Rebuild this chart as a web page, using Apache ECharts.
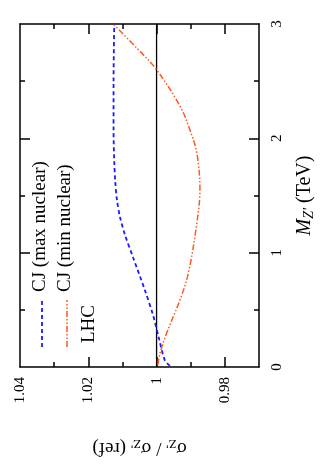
<!DOCTYPE html>
<html><head><meta charset="utf-8">
<script src="https://cdn.jsdelivr.net/npm/echarts@6/dist/echarts.min.js"></script>
<style>html,body{margin:0;padding:0;background:#fff}#c{width:327px;height:466px}</style>
</head><body><div id="c"></div>
<script>
// Data (ratio vs. Z' mass)
const massBlue   = [0.01, 0.06, 0.25, 0.45, 0.67, 0.96, 1.16, 1.31, 1.46, 1.62, 1.80, 2.07, 2.5, 3.0];
const ratioBlue  = [0.9961, 0.9976, 0.9993, 1.0010, 1.0034, 1.0069, 1.0093, 1.0107, 1.0116, 1.0121, 1.0124, 1.0126, 1.0126, 1.0124];
const massOrange  = [0.02, 0.12, 0.30, 0.59, 0.82, 1.26, 1.55, 1.87, 2.07, 2.28, 2.60, 2.79, 3.0];
const ratioOrange = [0.9996, 0.9990, 0.9970, 0.9931, 0.9907, 0.9882, 0.9873, 0.9882, 0.9902, 0.9931, 1.0000, 1.0058, 1.0127];
const massLHC  = [0, 3];
const ratioLHC = [1, 1];
const ratioMajor = [0.98, 1.00, 1.02];
const ratioMinor = [0.99, 1.01, 1.03];
const ratioLabels = [0.98, 1.00, 1.02, 1.04];
const massMajor = [1, 2];
const massMinor = [0.5, 1.5, 2.5];
const massLabels = [0, 1, 2, 3];
const seriesNames = ['CJ (max nuclear)', 'CJ (min nuclear)', 'LHC'];

const pairs = (r, m) => r.map((v, i) => [v, m[i]]);
const FONT = 'Liberation Serif';
const BLUE = '#1a1aff', ORANGE = '#ff5a1f';

const xBase = (extra) => Object.assign({
  type: 'value', min: 0.97, max: 1.04, inverse: true, gridIndex: 0,
  splitLine: {show: false},
  axisLine: {show: false, onZero: false, lineStyle: {color: '#000', width: 1.5}},
  axisLabel: {show: false},
  axisTick: {show: false}
}, extra);
const yBase = (extra) => Object.assign({
  type: 'value', min: 0, max: 3, gridIndex: 0,
  splitLine: {show: false},
  axisLine: {show: false, onZero: false, lineStyle: {color: '#000', width: 1.5}},
  axisLabel: {show: false},
  axisTick: {show: false}
}, extra);

const chart = echarts.init(document.getElementById('c'), null, {renderer: 'canvas'});
chart.setOption({
  animation: false,
  backgroundColor: '#fff',
  grid: {left: 20, right: 68, top: 24, bottom: 99, containLabel: false},
  xAxis: [
    xBase({position: 'bottom',
      axisLine: {show: true, onZero: false, lineStyle: {color: '#000', width: 1.5}},
      axisTick: {show: true, inside: true, length: 10, customValues: ratioMajor, lineStyle: {color: '#000', width: 1.5}},
      axisLabel: {show: true, customValues: ratioLabels, rotate: 90, margin: 10,
        fontFamily: FONT, fontSize: 15, color: '#000',
        formatter: v => (Math.abs(v - 1) < 1e-9 ? '1' : (+v).toFixed(2))},
      name: '{a|σ}{s|Z\'}{a| / σ}{s|Z\'}{a| (ref)}',
      nameLocation: 'middle', nameRotate: 180, nameGap: 70,
      nameTextStyle: {fontFamily: FONT, fontSize: 19, color: '#000',
        rich: {a: {fontFamily: FONT, fontSize: 19, color: '#000'},
               s: {fontFamily: FONT, fontSize: 13, color: '#000', padding: [8, 0, 0, 0]}}}
    }),
    xBase({position: 'bottom',
      axisTick: {show: true, inside: true, length: 5, customValues: ratioMinor, lineStyle: {color: '#000', width: 1.5}}}),
    xBase({position: 'top',
      axisLine: {show: true, onZero: false, lineStyle: {color: '#000', width: 1.5}},
      axisTick: {show: true, inside: true, length: 10, customValues: ratioMajor, lineStyle: {color: '#000', width: 1.5}}}),
    xBase({position: 'top',
      axisTick: {show: true, inside: true, length: 5, customValues: ratioMinor, lineStyle: {color: '#000', width: 1.5}}})
  ],
  yAxis: [
    yBase({position: 'right',
      axisLine: {show: true, onZero: false, lineStyle: {color: '#000', width: 1.5}},
      axisTick: {show: true, inside: true, length: 10, customValues: massMajor, lineStyle: {color: '#000', width: 1.5}},
      axisLabel: {show: true, customValues: massLabels, rotate: 90, margin: 11,
        fontFamily: FONT, fontSize: 15, color: '#000'},
      name: '{m|M}{s|Z\'}{a| (TeV)}',
      nameLocation: 'middle', nameRotate: 90, nameGap: 35,
      nameTextStyle: {fontFamily: FONT, fontSize: 20, color: '#000',
        rich: {m: {fontFamily: FONT, fontSize: 20, fontStyle: 'italic', color: '#000'},
               a: {fontFamily: FONT, fontSize: 20, color: '#000'},
               s: {fontFamily: FONT, fontSize: 14, fontStyle: 'italic', color: '#000', padding: [8, 0, 0, 0]}}}
    }),
    yBase({position: 'right',
      axisTick: {show: true, inside: true, length: 5, customValues: massMinor, lineStyle: {color: '#000', width: 1.5}}}),
    yBase({position: 'left',
      axisLine: {show: true, onZero: false, lineStyle: {color: '#000', width: 1.5}},
      axisTick: {show: true, inside: true, length: 10, customValues: massMajor, lineStyle: {color: '#000', width: 1.5}}}),
    yBase({position: 'left',
      axisTick: {show: true, inside: true, length: 5, customValues: massMinor, lineStyle: {color: '#000', width: 1.5}}})
  ],
  series: [
    {name: seriesNames[2], type: 'line', xAxisIndex: 0, yAxisIndex: 0, data: pairs(ratioLHC, massLHC),
     symbol: 'none', lineStyle: {color: '#000', width: 1.3}, z: 2},
    {name: seriesNames[0], type: 'line', xAxisIndex: 0, yAxisIndex: 0, data: pairs(ratioBlue, massBlue),
     symbol: 'none', smooth: 0.3, lineStyle: {color: BLUE, width: 1.8, type: [4, 3]}, z: 3},
    {name: seriesNames[1], type: 'line', xAxisIndex: 0, yAxisIndex: 0, data: pairs(ratioOrange, massOrange),
     symbol: 'none', smooth: 0.35, lineStyle: {color: ORANGE, width: 1.5, type: [6, 2, 1.5, 2, 1.5, 2]}, z: 3}
  ],
  graphic: [
    {type: 'line', shape: {x1: 42, y1: 347, x2: 42, y2: 298}, style: {stroke: BLUE, lineWidth: 1.8, lineDash: [4, 3]}},
    {type: 'line', shape: {x1: 67, y1: 347, x2: 67, y2: 300}, style: {stroke: ORANGE, lineWidth: 1.5, lineDash: [6, 2, 1.5, 2, 1.5, 2]}},
    {type: 'text', x: 40, y: 292, rotation: Math.PI / 2,
     style: {text: seriesNames[0], fontFamily: FONT, fontSize: 19, fill: '#000', align: 'left', verticalAlign: 'middle'}},
    {type: 'text', x: 65, y: 292, rotation: Math.PI / 2,
     style: {text: seriesNames[1], fontFamily: FONT, fontSize: 19, fill: '#000', align: 'left', verticalAlign: 'middle'}},
    {type: 'text', x: 89, y: 343, rotation: Math.PI / 2,
     style: {text: seriesNames[2], fontFamily: FONT, fontSize: 19, fill: '#000', align: 'left', verticalAlign: 'middle'}}
  ]
});
</script></body></html>
